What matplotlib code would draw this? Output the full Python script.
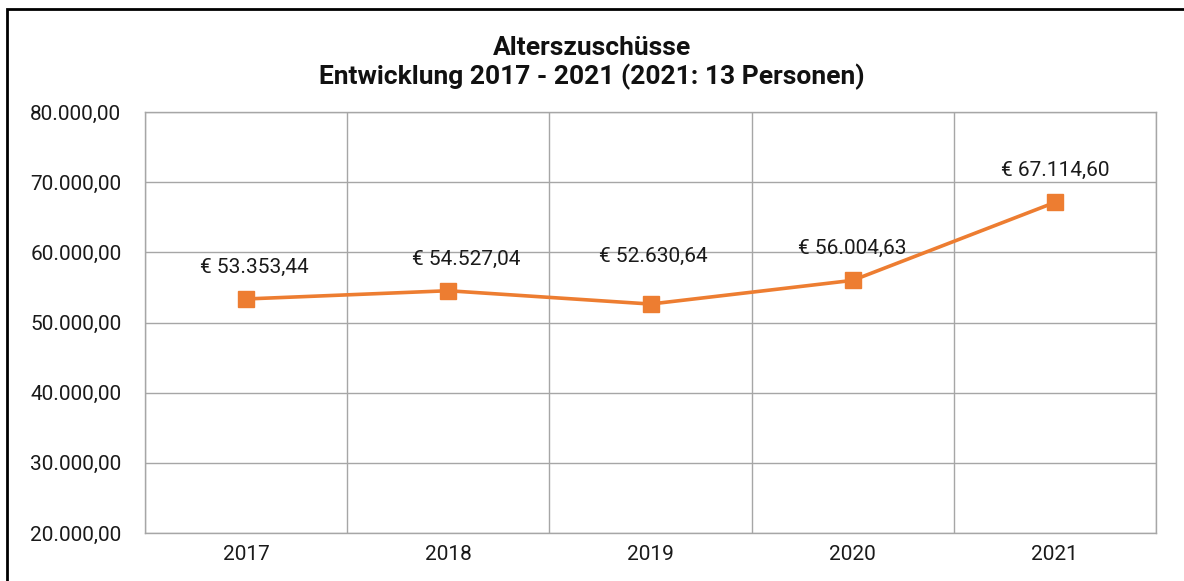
import matplotlib
matplotlib.use("Agg")
import matplotlib.pyplot as plt
from matplotlib.patches import Rectangle

years = ["2017", "2018", "2019", "2020", "2021"]
values = [53353.44, 54527.04, 52630.64, 56004.63, 67114.60]
y_ticks = [20000, 30000, 40000, 50000, 60000, 70000, 80000]
title = "Alterszuschüsse\nEntwicklung 2017 - 2021 (2021: 13 Personen)"

# label placement in points (dx, dy) relative to each marker
label_offsets = [(6, 22.5), (13, 22.5), (2, 34), (0, 23), (0, 23)]


def de_num(v, decimals=2):
    s = f"{v:,.{decimals}f}"
    return s.replace(",", "X").replace(".", ",").replace("X", ".")


plt.rcParams['font.family'] = ['Roboto', 'DejaVu Sans']
orange = "#ED7D31"
grid_col = "#A6A6A6"
txt_col = "#1a1a1a"

fig = plt.figure(figsize=(11.84, 5.81), dpi=100)
ax = fig.add_axes([145 / 1184, 1 - 533 / 581, 1011 / 1184, 421 / 581])

x = list(range(len(years)))
ax.plot(x, values, color=orange, lw=2.6, marker="s", ms=12, zorder=3)

for xi, v, (dx, dy) in zip(x, values, label_offsets):
    ax.annotate("€ " + de_num(v), (xi, v), xytext=(dx, dy),
                textcoords="offset points", ha="center", va="center",
                fontsize=15, color=txt_col)

ax.set_xlim(-0.5, len(years) - 0.5)
ax.set_ylim(y_ticks[0], y_ticks[-1])
ax.set_xticks(x)
ax.set_xticklabels(years)
ax.set_xticks([i - 0.5 for i in range(len(years) + 1)], minor=True)
ax.set_yticks(y_ticks)
ax.set_yticklabels([de_num(t) for t in y_ticks])
ax.tick_params(axis="both", which="both", length=0, labelsize=15,
               labelcolor=txt_col)
ax.tick_params(axis="y", pad=17)
ax.tick_params(axis="x", pad=9)
ax.grid(axis="y", which="major", color=grid_col, lw=1)
ax.grid(axis="x", which="minor", color=grid_col, lw=1)
ax.set_axisbelow(True)
for sp in ax.spines.values():
    sp.set_color(grid_col)
    sp.set_linewidth(1)

fig.text(0.5, 1 - 63 / 581, title, ha="center", va="center",
         fontsize=19, fontweight="semibold", linespacing=1.15, color="#111111")

fig.patches.append(Rectangle((7 / 1184, -0.1), 1.2, 1 - 9 / 581 + 0.1,
                             transform=fig.transFigure, fill=False,
                             ec="black", lw=2))

fig.savefig("out.png", dpi=100)
